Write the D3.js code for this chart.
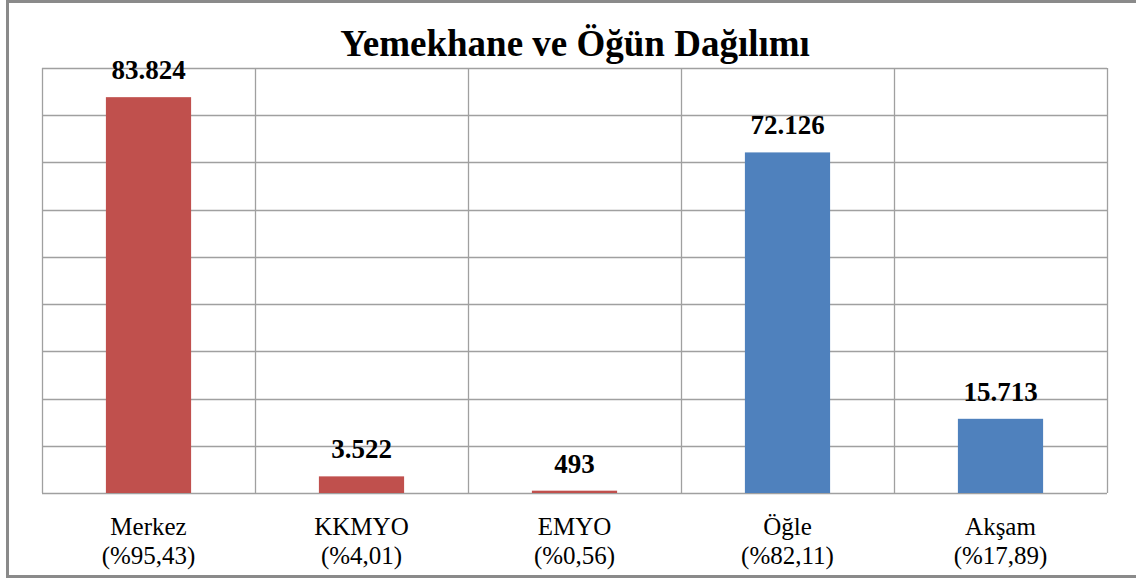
<!DOCTYPE html>
<html>
<head>
<meta charset="utf-8">
<script src="https://cdn.jsdelivr.net/npm/d3@7.9.0/dist/d3.min.js"></script>
<style>
  body { margin: 0; background: #fff; }
  svg { display: block; }
</style>
</head>
<body>
<div id="chart"></div>
<script>
// chart data
const categories = ['Merkez', 'KKMYO', 'EMYO', 'Öğle', 'Akşam'];
const shares = ['(%95,43)', '(%4,01)', '(%0,56)', '(%82,11)', '(%17,89)'];
const values = [83824, 3522, 493, 72126, 15713];
const barColors = ['#C0504D', '#C0504D', '#C0504D', '#4F81BD', '#4F81BD'];
const yTicks = [0, 10000, 20000, 30000, 40000, 50000, 60000, 70000, 80000, 90000];

const width = 1136;
const height = 579;
const margin = { top: 68, right: 29, bottom: 86, left: 42 };
const serif = '"Liberation Serif", "Times New Roman", Times, serif';

const svg = d3.select('#chart')
    .append('svg')
    .attr('width', width)
    .attr('height', height);

// outer frame
svg.append('rect')
    .attr('x', 7.5)
    .attr('y', 1.5)
    .attr('width', width + 10)
    .attr('height', 575)
    .attr('fill', 'none')
    .attr('stroke', '#8a8a8a')
    .attr('stroke-width', 3);

const x = d3.scaleBand()
    .domain(categories)
    .range([margin.left, width - margin.right])
    .paddingInner(0.6)
    .paddingOuter(0.3);

const xCell = d3.scaleBand()
    .domain(categories)
    .range([margin.left, width - margin.right]);

const y = d3.scaleLinear()
    .domain([0, 90000])
    .range([height - margin.bottom, margin.top]);

// gridlines
const grid = svg.append('g').attr('class', 'gridlines');
grid.selectAll('line.h')
    .data(yTicks)
    .join('line')
    .attr('class', 'h')
    .attr('x1', margin.left)
    .attr('x2', width - margin.right)
    .attr('y1', d => Math.round(y(d)) + 0.5)
    .attr('y2', d => Math.round(y(d)) + 0.5)
    .attr('stroke', '#a0a0a0')
    .attr('stroke-width', 1.3);

const bounds = categories.map(c => xCell(c)).concat([width - margin.right]);
grid.selectAll('line.v')
    .data(bounds)
    .join('line')
    .attr('class', 'v')
    .attr('x1', d => Math.round(d) + 0.5)
    .attr('x2', d => Math.round(d) + 0.5)
    .attr('y1', y(90000))
    .attr('y2', y(0))
    .attr('stroke', '#a0a0a0')
    .attr('stroke-width', 1.3);

// bars
svg.append('g')
    .selectAll('rect')
    .data(values)
    .join('rect')
    .attr('x', (d, i) => x(categories[i]))
    .attr('y', d => y(d))
    .attr('width', x.bandwidth())
    .attr('height', d => y(0) - y(d))
    .attr('fill', (d, i) => barColors[i]);

// value labels
const fmt = d3.formatLocale({ decimal: ',', thousands: '.', grouping: [3], currency: ['', ''] }).format(',d');
svg.append('g')
    .selectAll('text')
    .data(values)
    .join('text')
    .attr('x', (d, i) => x(categories[i]) + x.bandwidth() / 2)
    .attr('y', d => y(d) - 18)
    .attr('text-anchor', 'middle')
    .style('font-family', serif)
    .style('font-weight', 'bold')
    .style('font-size', '27px')
    .attr('fill', '#000')
    .text(d => fmt(d));

// category labels
const labels = svg.append('g');
categories.forEach((c, i) => {
    const cx = xCell(c) + xCell.bandwidth() / 2;
    labels.append('text')
        .attr('x', cx)
        .attr('y', 535)
        .attr('text-anchor', 'middle')
        .style('font-family', serif)
        .style('font-size', '25px')
        .text(c);
    labels.append('text')
        .attr('x', cx)
        .attr('y', 564)
        .attr('text-anchor', 'middle')
        .style('font-family', serif)
        .style('font-size', '25px')
        .text(shares[i]);
});

// title
svg.append('text')
    .attr('x', 575)
    .attr('y', 56)
    .attr('text-anchor', 'middle')
    .style('font-family', serif)
    .style('font-weight', 'bold')
    .style('font-size', '37px')
    .text('Yemekhane ve Öğün Dağılımı');
</script>
</body>
</html>
